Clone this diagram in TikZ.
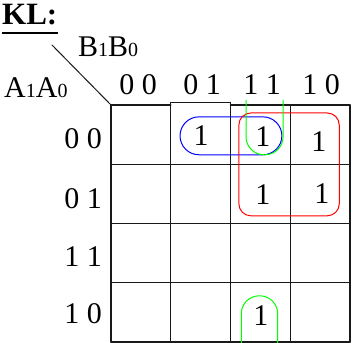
\documentclass[tikz,border=0pt]{standalone}
\usepackage{fontspec}
\setmainfont{Liberation Serif}
\begin{document}
\begin{tikzpicture}[x=1pt,y=-1pt]
% Karnaugh map for KL
\def\cellw{59.75pt}
\def\cellh{59.25pt}
\providecommand{\kmLineColor}{black!90}
\providecommand{\kmLineWidth}{1.4pt}
\providecommand{\kmLoopWidth}{1pt}
\tikzset{
  lbl/.style={inner sep=0pt, font=\fontsize{30}{32}\selectfont},
  one/.style={inner sep=0pt, font=\fontsize{30}{32}\selectfont},
  loop/.style={line width=\kmLoopWidth},
}
\newcommand{\smalldigit}[1]{{\fontsize{20}{21}\selectfont #1}}
\useasboundingbox (0,0) rectangle (355,342);
% Title and variable labels
\node[anchor=base west, inner sep=0pt, font=\bfseries\fontsize{31}{33}\selectfont] (kl) at (2,25) {KL:};
\draw[line width=2.8pt] ([yshift=-8pt]kl.base west) -- ([yshift=-8pt]kl.base east);
\node[lbl, anchor=base west] (bvars) at (78,57) {B\smalldigit{1}B\smalldigit{0}};
\node[lbl, anchor=base west] (avars) at (4,97) {A\smalldigit{1}A\smalldigit{0}};
\coordinate (diagstart) at (52,45);
% Column headers
\node[lbl, anchor=base] (c00) at (138,95) {0 0};
\node[lbl, anchor=base] (c01) at (202,95) {0 1};
\node[lbl, anchor=base] (c11) at (262,95) {1 1};
\node[lbl, anchor=base] (c10) at (321,95) {1 0};
% Row headers
\node[lbl, anchor=base east] (r00) at (102,148) {0 0};
\node[lbl, anchor=base east] (r01) at (102,208) {0 1};
\node[lbl, anchor=base east] (r11) at (102,266) {1 1};
\node[lbl, anchor=base east] (r10) at (102,323) {1 0};
\begin{scope}[shift={(111,105)}, x=\cellw, y=-\cellh, line cap=round, line join=round]
  \coordinate (corner) at (0,0);
  % Diagonal
  \draw[draw=\kmLineColor, line width=1pt] (diagstart) -- (corner);
  % Vertical lines
  \begin{scope}[draw=\kmLineColor, line width=\kmLineWidth]
    \draw (0,0) -- (0,4);
    \draw (1,-0.04) -- (1,4);
    \draw (2,-0.04) -- (2,4);
    \draw (3,0) -- (3,4);
    \draw (4,0) -- (4,4);
  \end{scope}
  % Horizontal lines
  \begin{scope}[draw=\kmLineColor, line width=\kmLineWidth]
    \draw (0,0) -- (1,0);
    \draw (1,-0.04) -- (2,-0.04);
    \draw (2,0) -- (4,0);
    \draw (0,1) -- (4,1);
    \draw (0,2) -- (4,2);
    \draw (0,3) -- (4,3);
    \draw (0,4) -- (4,4);
  \end{scope}
  % Minterms
  \node[one] (m1) at (1.51,0.51) {1};
  \node[one] (m3) at (2.54,0.54) {1};
  \node[one] (m2) at (3.48,0.62) {1};
  \node[one] (m7) at (2.54,1.52) {1};
  \node[one] (m6) at (3.53,1.49) {1};
  \node[one] (m11) at (2.51,3.56) {1};
  % Loops
  \draw[loop, blue, rounded corners=19pt] (1.155,0.2) rectangle (2.86,0.84);
  \draw[loop, red, rounded corners=12pt] (2.14,0.135) rectangle (3.82,1.87);
  \draw[loop, green, rounded corners=18pt] (2.26,-0.08) |- (2.88,0.84) -- (2.88,-0.08);
  \draw[loop, green, rounded corners=18pt] (2.18,4.1) |- (2.79,3.22) -- (2.79,4.1);
\end{scope}
\end{tikzpicture}
\end{document}
